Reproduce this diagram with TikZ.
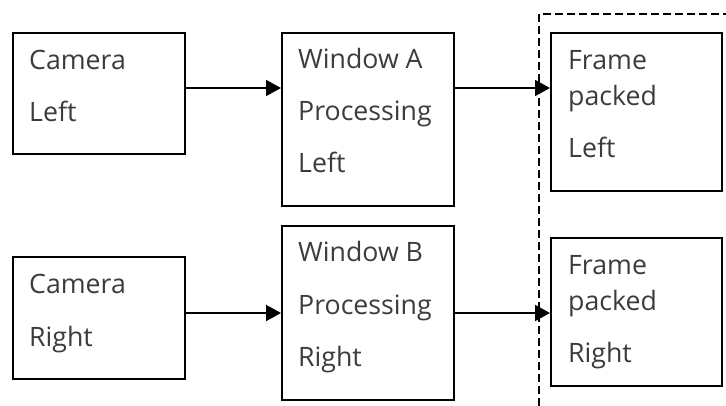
\documentclass[tikz,border=0pt]{standalone}
\usepackage{fontspec}
\setmainfont{Open Sans}
\usetikzlibrary{arrows.meta}
\definecolor{txt}{HTML}{3C3C3C}
\tikzset{
  box/.style={draw=black, line width=2pt, rectangle, inner sep=0pt},
  lbl/.style={anchor=base west, inner sep=0pt, text=txt, font=\fontsize{26.7}{36}\selectfont},
  arr/.style={draw=black, line width=2pt, -{Triangle[length=15pt,width=16pt]}},
  grp/.style={draw=black, line width=2pt, dash pattern=on 8pt off 4pt}
}
\begin{document}
\begin{tikzpicture}[x=1pt,y=-1pt]
\useasboundingbox (0,0) rectangle (726,406);
% dashed group
\coordinate (gtl) at (539,14);
\coordinate (gtr) at (726,14);
\coordinate (gbl) at (539,406);
\draw[grp] (gbl) -- (gtl) -- (gtr);
% boxes
\node[box, minimum width=172pt, minimum height=121pt] (cl) at (99,93.5) {};
\node[box, minimum width=172pt, minimum height=173pt] (wa) at (368,119.5) {};
\node[box, minimum width=171pt, minimum height=158pt] (fl) at (636.5,112) {};
\node[box, minimum width=172pt, minimum height=122pt] (cr) at (99,318) {};
\node[box, minimum width=172pt, minimum height=174pt] (wb) at (368,313) {};
\node[box, minimum width=171pt, minimum height=148pt] (fr) at (636.5,312) {};
% labels
\node[lbl] (cl1) at ([shift={(17,37.5)}]cl.north west) {Camera};
\node[lbl] (cl2) at ([shift={(17,90)}]cl.north west) {Left};
\node[lbl] (wa1) at ([shift={(17,37)}]wa.north west) {Window A};
\node[lbl] (wa2) at ([shift={(17,89)}]wa.north west) {Processing};
\node[lbl] (wa3) at ([shift={(17,141)}]wa.north west) {Left};
\node[lbl] (fl1) at ([shift={(18,37.5)}]fl.north west) {Frame};
\node[lbl] (fl2) at ([shift={(18,73.5)}]fl.north west) {packed};
\node[lbl] (fl3) at ([shift={(18,126)}]fl.north west) {Left};
\node[lbl] (cr1) at ([shift={(17,38)}]cr.north west) {Camera};
\node[lbl] (cr2) at ([shift={(17,90)}]cr.north west) {Right};
\node[lbl] (wb1) at ([shift={(17,36.5)}]wb.north west) {Window B};
\node[lbl] (wb2) at ([shift={(17,90)}]wb.north west) {Processing};
\node[lbl] (wb3) at ([shift={(17,141)}]wb.north west) {Right};
\node[lbl] (fr1) at ([shift={(18,38)}]fr.north west) {Frame};
\node[lbl] (fr2) at ([shift={(18,74)}]fr.north west) {packed};
\node[lbl] (fr3) at ([shift={(18,125)}]fr.north west) {Right};
% arrows
\draw[arr] (cl.east |- 0,88) -- (wa.west |- 0,88);
\draw[arr] (wa.east |- 0,88) -- (fl.west |- 0,88);
\draw[arr] (cr.east |- 0,313) -- (wb.west |- 0,313);
\draw[arr] (wb.east |- 0,313) -- (fr.west |- 0,313);
\end{tikzpicture}
\end{document}
